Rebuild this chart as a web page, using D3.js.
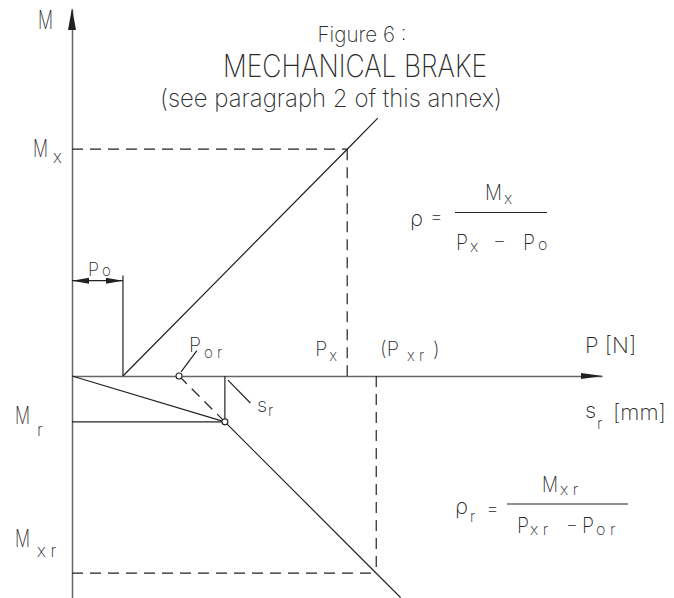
<!DOCTYPE html>
<html>
<head>
<meta charset="utf-8">
<script src="https://cdn.jsdelivr.net/npm/d3@7"></script>
<style>
  body { margin: 0; background: #fff; }
  svg { display: block; }
  text { font-family: "DejaVu Sans ExtraLight", "Inter", "Liberation Sans Narrow", sans-serif; font-weight: 200; fill: #2a2a2a; }
</style>
</head>
<body>
<svg id="chart" width="674" height="598"></svg>
<script>
// values (P in arbitrary units, M in arbitrary units)
var pValues = { Po: 10, Por: 21, sr: 30, Px: 54, Pxr: 59.7 };
var mValues = { Mx: 44.5, Mr: -9, Mxr: -38.7 };
var xDomain = [0, 104];
var yDomain = [-43.5, 72];

// characteristic lines
var brakeLine = [[10, 0], [54, 44.5], [60, 50.6]];
var reverseLine = [[0, 0], [30, -9]];
var reverseDash = [[21, 0], [30, -9]];
var reverseSolid = [[30, -9], [59.7, -38.7], [64.5, -43.5]];

var svg = d3.select("#chart");
var ink = "#222";

var x = d3.scaleLinear().domain(xDomain).range([72, 602]);
var y = d3.scaleLinear().domain([0, 72]).range([376, 376 - 72 * 530 / 104]);
var yAxisScale = y.copy().domain(yDomain).range([y(yDomain[0]), y(yDomain[1])]);

var line = d3.line().x(function (d) { return x(d[0]); }).y(function (d) { return y(d[1]); });

// axes
svg.append("g")
    .attr("class", "axis axis--x")
    .attr("transform", "translate(0," + y(0) + ")")
    .call(d3.axisBottom(x).tickValues([]).tickSizeOuter(0));
svg.append("g")
    .attr("class", "axis axis--y")
    .attr("transform", "translate(" + x(0) + ",0)")
    .call(d3.axisLeft(yAxisScale).tickValues([]).tickSizeOuter(0));
svg.selectAll(".axis path").attr("stroke", "#666").attr("stroke-width", 1.5);

// axis arrowheads
var xe = x(xDomain[1]), y0 = y(0), x0 = x(0), yt = y(yDomain[1]);
svg.append("path")
    .attr("d", "M" + (xe + 1) + "," + y0 + "L" + (xe - 21) + "," + (y0 - 3) + "L" + (xe - 21) + "," + (y0 + 3) + "Z")
    .attr("fill", ink);
svg.append("path")
    .attr("d", "M" + x0 + "," + (yt - 1) + "L" + (x0 - 4) + "," + (yt + 21) + "L" + (x0 + 4) + "," + (yt + 21) + "Z")
    .attr("fill", ink);

function seg(pts, dashed) {
    return svg.append("path")
        .attr("d", line(pts))
        .attr("fill", "none")
        .attr("stroke", ink)
        .attr("stroke-width", 1.2)
        .attr("stroke-dasharray", dashed ? "11,7" : null);
}

// guide lines
seg([[0, mValues.Mx], [pValues.Px, mValues.Mx]], true);
seg([[pValues.Px, mValues.Mx], [pValues.Px, 0]], true);
seg([[0, mValues.Mxr], [pValues.Pxr, mValues.Mxr]], true);
seg([[pValues.Pxr, 0], [pValues.Pxr, mValues.Mxr]], true);
seg([[0, mValues.Mr], [pValues.sr, mValues.Mr]], false);
seg([[pValues.sr, 0], [pValues.sr, mValues.Mr]], false);

// Po extension + dimension
var dimY = 18.7;
seg([[pValues.Po, 0], [pValues.Po, dimY + 1]], false);
seg([[0, dimY], [pValues.Po, dimY]], false);
var dy0 = y(dimY);
svg.append("path")
    .attr("d", "M" + x0 + "," + dy0 + "L" + (x0 + 17) + "," + (dy0 - 3) + "L" + (x0 + 17) + "," + (dy0 + 3) + "Z" +
               "M" + x(pValues.Po) + "," + dy0 + "L" + (x(pValues.Po) - 17) + "," + (dy0 - 3) + "L" + (x(pValues.Po) - 17) + "," + (dy0 + 3) + "Z")
    .attr("fill", ink);

// characteristic
seg(brakeLine, false);
seg(reverseLine, false);
seg(reverseDash, true);
seg(reverseSolid, false);

// leaders
seg([[pValues.Por + 0.4, 0.8], [pValues.Por + 3.5, 5]], false);
seg([[pValues.sr + 0.6, -0.8], [pValues.sr + 5, -5.3]], false);

// points
svg.selectAll("circle.pt")
    .data([[pValues.Por, 0], [pValues.sr, mValues.Mr]])
    .enter().append("circle")
    .attr("class", "pt")
    .attr("cx", function (d) { return x(d[0]); })
    .attr("cy", function (d) { return y(d[1]); })
    .attr("r", 3)
    .attr("fill", "#fff")
    .attr("stroke", ink)
    .attr("stroke-width", 1.1);

// text helpers
function txt(px, py, s, size, anchor, len) {
    var t = svg.append("text")
        .attr("x", px).attr("y", py)
        .attr("font-size", size)
        .attr("text-anchor", anchor || "start")
        .text(s);
    if (len) t.attr("textLength", len).attr("lengthAdjust", "spacingAndGlyphs");
    return t;
}
function lab(px, py, main, sub, size, subSize, sdx, sdy, len) {
    txt(px, py, main, size, "start", len);
    txt(px + sdx, py + sdy, sub, subSize);
}

// titles
txt(362, 42, "Figure 6 :", 21, "middle", 89);
txt(355, 77, "MECHANICAL BRAKE", 31, "middle", 264);
txt(331, 107, "(see paragraph 2 of this annex)", 25, "middle", 342);

// axis labels
txt(38, 29, "M", 25, "start", 15);
txt(585, 353, "P [N]", 22);
lab(585, 418, "s", "r", 22, 16, 12, 11);
txt(613, 420, "[mm]", 22);

// left labels
lab(33, y(mValues.Mx) + 8, "M", "x", 24, 17, 20, 6, 15);
lab(15, y(mValues.Mr) + 2, "M", "r", 24, 17, 22, 12, 15);
lab(15, 547, "M", "x r", 24, 17, 22, 10, 15);

// axis point labels
lab(88, 276, "P", "o", 19, 15, 14, 0, 11);
lab(189, 352, "P", "o r", 20, 15, 15, 6, 12);
lab(257, 412, "s", "r", 20, 15, 11, 4);
lab(x(pValues.Px) - 32, 356, "P", "x", 20, 15, 14, 5, 12);
txt(380, 356, "(P", 20);
txt(407, 361, "x r", 15);
txt(433, 356, ")", 20);

// formula 1
txt(410, 226, "\u03C1", 22);
txt(430, 223, "=", 20);
svg.append("line").attr("x1", 455).attr("x2", 547).attr("y1", 212.5).attr("y2", 212.5).attr("stroke", ink).attr("stroke-width", 1.2);
lab(485, 200, "M", "x", 22, 16, 19, 4, 17);
lab(456, 250, "P", "x", 22, 16, 14, 2, 12);
txt(493, 247, "\u2212", 20);
lab(523, 250, "P", "o", 22, 16, 15, 0, 12);

// formula 2
txt(455, 514, "\u03C1", 22);
txt(470, 522, "r", 15);
txt(486, 515, "=", 20);
svg.append("line").attr("x1", 507).attr("x2", 628).attr("y1", 504).attr("y2", 504).attr("stroke", ink).attr("stroke-width", 1.2);
lab(542, 492, "M", "x r", 22, 16, 18, 3, 16);
lab(517, 533, "P", "x r", 22, 16, 13, 2, 12);
txt(566, 531, "\u2212", 18);
lab(582, 533, "P", "o r", 22, 16, 14, 2, 12);
</script>
</body>
</html>
